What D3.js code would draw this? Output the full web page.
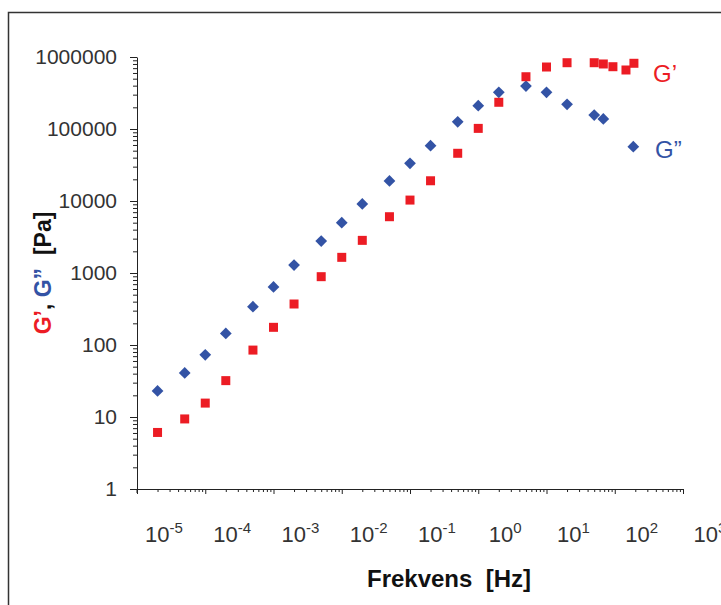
<!DOCTYPE html>
<html>
<head>
<meta charset="utf-8">
<script src="https://cdn.jsdelivr.net/npm/d3@7"></script>
<style>
  body { margin: 0; background: #fff; }
  svg { display: block; font-family: "Liberation Sans", Arial, sans-serif; }
</style>
</head>
<body>
<div id="chart"></div>
<script>
// frequency [Hz] and moduli [Pa]
var freqG1 = [2e-5, 5e-5, 1e-4, 2e-4, 5e-4, 1e-3, 2e-3, 5e-3, 1e-2, 2e-2, 5e-2, 0.1, 0.2, 0.5, 1, 2, 5, 10, 20, 50, 68, 94, 146, 191];
var valG1  = [6.1, 9.4, 15.6, 32, 85, 176, 371, 889, 1650, 2840, 6050, 10300, 19100, 46000, 102000, 235000, 532000, 726000, 833000, 833000, 800000, 733000, 660000, 818000];

var freqG2 = [2e-5, 5e-5, 1e-4, 2e-4, 5e-4, 1e-3, 2e-3, 5e-3, 1e-2, 2e-2, 5e-2, 0.1, 0.2, 0.5, 1, 2, 5, 10, 20, 50, 68, 187];
var valG2  = [23, 41, 73, 145, 340, 640, 1290, 2780, 5000, 9090, 18960, 33400, 58600, 126000, 211000, 323000, 395000, 323000, 220000, 156000, 138000, 56800];

var yTickLabels = [1, 10, 100, 1000, 10000, 100000, 1000000];
var xExponents = [-5, -4, -3, -2, -1, 0, 1, 2, 3];

var svgWidth = 721,
    svgHeight = 605;

var red = "#ec1c24",
    blue = "#3353a5";

var svg = d3.select("#chart")
  .append("svg")
  .attr("width", svgWidth)
  .attr("height", svgHeight);

svg.append("rect")
  .attr("width", svgWidth)
  .attr("height", svgHeight)
  .attr("fill", "#fff");

// frame round the picture
svg.append("rect")
  .attr("x", 8.5)
  .attr("y", 12.5)
  .attr("width", 740)
  .attr("height", 640)
  .attr("fill", "none")
  .attr("stroke", "#333")
  .attr("stroke-width", 1.5);

var x = d3.scaleLog().domain([1e-5, 1e3]).range([137, 683]);
var y = d3.scaleLog().domain([1, 1e6]).range([489, 57]);

// minor + major tick values
function logTicks(lo, hi) {
  var out = [];
  for (var e = lo; e < hi; e++) {
    for (var m = 1; m < 10; m++) out.push(m * Math.pow(10, e));
  }
  out.push(Math.pow(10, hi));
  return out;
}
function isMajor(d) {
  var l = Math.log10(d);
  return Math.abs(l - Math.round(l)) < 1e-9;
}

// x axis
var xAxis = svg.append("g")
  .attr("transform", "translate(0,489)")
  .call(d3.axisBottom(x)
    .tickValues(logTicks(-5, 3))
    .tickFormat("")
    .tickSize(3)
    .tickSizeOuter(0));
xAxis.selectAll(".tick line").attr("y2", d => isMajor(d) ? 5 : 3);
xAxis.selectAll("path, line").attr("stroke", "#222");

// y axis
var yAxis = svg.append("g")
  .attr("transform", "translate(137,0)")
  .call(d3.axisLeft(y)
    .tickValues(logTicks(0, 6))
    .tickFormat(d => yTickLabels.indexOf(d) >= 0 ? d : "")
    .tickSize(4)
    .tickPadding(16)
    .tickSizeOuter(0));
yAxis.selectAll(".tick line").attr("x2", d => isMajor(d) ? -7 : -4);
yAxis.selectAll("path, line").attr("stroke", "#222");
yAxis.selectAll("text")
  .attr("font-size", "21px")
  .attr("font-family", "Liberation Sans, Arial, sans-serif")
  .attr("fill", "#333");

// extend y axis line a little below the x axis
svg.append("line")
  .attr("x1", 137).attr("x2", 137)
  .attr("y1", 489).attr("y2", 493)
  .attr("stroke", "#222");

// x tick labels (text boxes sit a bit right of their ticks)
var xLabels = svg.append("g").selectAll("text")
  .data(xExponents)
  .enter()
  .append("text")
  .attr("x", d => x(Math.pow(10, d)) + 27)
  .attr("y", 542)
  .attr("text-anchor", "middle")
  .attr("fill", "#333")
  .attr("font-size", "22px");
xLabels.append("tspan").text("10");
xLabels.append("tspan")
  .attr("dy", -9)
  .attr("font-size", "15px")
  .text(d => d < 0 ? "-" + (-d) : d);

// axis titles
svg.append("text")
  .attr("x", 449)
  .attr("y", 587)
  .attr("text-anchor", "middle")
  .attr("font-size", "24px")
  .attr("font-weight", "bold")
  .attr("fill", "#111")
  .text("Frekvens\u00a0\u00a0[Hz]");

var yTitle = svg.append("text")
  .attr("transform", "translate(51,273)rotate(-90)")
  .attr("text-anchor", "middle")
  .attr("font-size", "23px")
  .attr("font-weight", "bold");
yTitle.append("tspan").attr("fill", red).text("G\u2019");
yTitle.append("tspan").attr("fill", "#111").text(", ");
yTitle.append("tspan").attr("fill", blue).text("G\u201d");
yTitle.append("tspan").attr("fill", "#111").text("\u00a0\u00a0[Pa]");

// G'' diamonds
var g2 = freqG2.map((f, i) => ({ f: f, v: valG2[i] }));
svg.append("g").selectAll("path")
  .data(g2)
  .enter()
  .append("path")
  .attr("d", d3.symbol(d3.symbolSquare, 69))
  .attr("transform", d => `translate(${x(d.f)},${y(d.v)})rotate(45)`)
  .attr("fill", blue);

// G' squares
var g1 = freqG1.map((f, i) => ({ f: f, v: valG1[i] }));
svg.append("g").selectAll("path")
  .data(g1)
  .enter()
  .append("path")
  .attr("d", d3.symbol(d3.symbolSquare, 81))
  .attr("transform", d => `translate(${x(d.f)},${y(d.v)})`)
  .attr("fill", red);

// series labels
svg.append("text")
  .attr("x", 653)
  .attr("y", 82)
  .attr("font-size", "24px")
  .attr("fill", red)
  .text("G\u2019");

svg.append("text")
  .attr("x", 655)
  .attr("y", 158)
  .attr("font-size", "24px")
  .attr("fill", blue)
  .text("G\u201d");
</script>
</body>
</html>
